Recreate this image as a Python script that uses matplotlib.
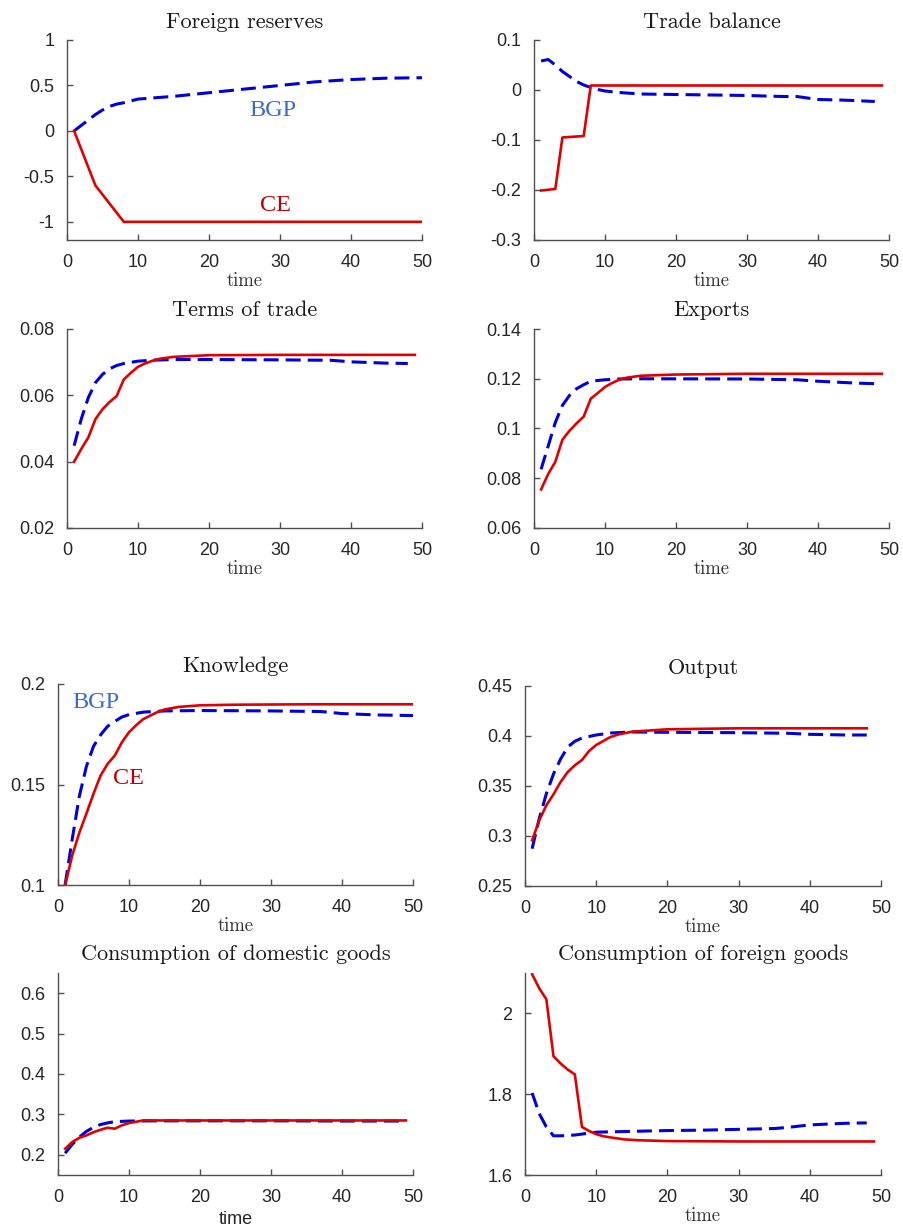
import numpy as np
import matplotlib
matplotlib.use("Agg")
import matplotlib.pyplot as plt
from matplotlib.ticker import FuncFormatter

plt.rcParams['axes.unicode_minus'] = False

# Foreign reserves
t_res_ce = [1, 4, 8, 20, 30, 40, 50]
res_ce = [0.0, -0.60, -1.0, -1.0, -1.0, -1.0, -1.0]
t_res_bgp = [1, 2, 3, 4, 5, 6, 7, 8, 10, 15, 20, 25, 30, 35, 40, 45, 50]
res_bgp = [0.0, 0.06, 0.12, 0.18, 0.23, 0.27, 0.295, 0.31, 0.35, 0.38, 0.42, 0.46, 0.50, 0.54, 0.565, 0.58, 0.585]

# Trade balance
t_tb_ce = [1, 3, 4, 7, 8, 20, 30, 40, 49]
tb_ce = [-0.201, -0.198, -0.095, -0.092, 0.009, 0.009, 0.009, 0.009, 0.009]
t_tb_bgp = [1, 2, 3, 4, 5, 6, 7, 8, 9, 10, 12, 15, 20, 25, 30, 35, 37, 40, 43, 45, 48]
tb_bgp = [0.058, 0.061, 0.05, 0.037, 0.027, 0.017, 0.01, 0.005, 0.001, -0.002, -0.005, -0.008,
          -0.009, -0.010, -0.011, -0.013, -0.013, -0.019, -0.020, -0.021, -0.023]

# Terms of trade
t_tot_ce = [1, 2, 3, 4, 5, 6, 7, 8, 9, 10, 11, 12, 13, 15, 20, 30, 40, 49]
tot_ce = [0.040, 0.0438, 0.0473, 0.0528, 0.0558, 0.058, 0.0598, 0.0648, 0.0668, 0.0686, 0.0696,
          0.0704, 0.071, 0.0716, 0.0721, 0.0722, 0.0722, 0.0722]
t_tot_bgp = [1, 2, 3, 4, 5, 6, 7, 8, 10, 12, 15, 20, 30, 35, 37, 40, 45, 48]
tot_bgp = [0.0448, 0.0528, 0.0593, 0.0638, 0.0663, 0.068, 0.069, 0.0696, 0.0703, 0.0706, 0.0708,
           0.0708, 0.0707, 0.0706, 0.0706, 0.0701, 0.0697, 0.0696]

# Exports
t_exp_ce = [1, 2, 3, 4, 5, 6, 7, 8, 9, 10, 11, 12, 13, 15, 20, 30, 40, 49]
exp_ce = [0.0755, 0.0817, 0.0866, 0.0955, 0.0991, 0.1021, 0.1048, 0.112, 0.1143, 0.1167, 0.1183,
          0.1196, 0.1204, 0.1212, 0.1217, 0.122, 0.122, 0.122]
t_exp_bgp = [1, 2, 3, 4, 5, 6, 7, 8, 10, 12, 15, 30, 37, 40, 45, 48]
exp_bgp = [0.0836, 0.093, 0.1024, 0.1093, 0.1133, 0.116, 0.1176, 0.119, 0.1196, 0.1199, 0.120,
           0.1199, 0.1196, 0.119, 0.1183, 0.118]

# Knowledge
t_kn_ce = [1, 2, 3, 4, 5, 6, 7, 8, 9, 10, 11, 12, 13, 14, 15, 17, 20, 25, 35, 50]
kn_ce = [0.100, 0.1146, 0.126, 0.1355, 0.1454, 0.1545, 0.1603, 0.1644, 0.171, 0.176, 0.1795,
         0.1825, 0.1843, 0.186, 0.1873, 0.1886, 0.1894, 0.1897, 0.1899, 0.1899]
t_kn_bgp = [1, 2, 3, 4, 5, 6, 7, 8, 9, 10, 12, 15, 20, 30, 37, 40, 45, 50]
kn_bgp = [0.100, 0.1227, 0.1441, 0.159, 0.169, 0.1747, 0.179, 0.1814, 0.1836, 0.1848, 0.186,
          0.1866, 0.1868, 0.1866, 0.1863, 0.1853, 0.1846, 0.1843]

# Output
t_out_ce = [1, 2, 3, 4, 5, 6, 7, 8, 9, 10, 11, 12, 13, 15, 20, 30, 40, 48]
out_ce = [0.2957, 0.3157, 0.3307, 0.3417, 0.354, 0.364, 0.3707, 0.376, 0.385, 0.391, 0.395,
          0.399, 0.4013, 0.4043, 0.4067, 0.4077, 0.4077, 0.4077]
t_out_bgp = [1, 2, 3, 4, 5, 6, 7, 8, 10, 12, 15, 20, 30, 37, 40, 45, 48]
out_bgp = [0.2873, 0.3173, 0.3423, 0.362, 0.377, 0.389, 0.3947, 0.398, 0.401, 0.403, 0.404,
           0.4037, 0.4033, 0.4027, 0.4017, 0.401, 0.401]

# Consumption of domestic goods
t_cd_ce = [1, 2, 3, 4, 5, 6, 7, 8, 9, 10, 12, 15, 20, 30, 40, 49]
cd_ce = [0.215, 0.2315, 0.242, 0.248, 0.256, 0.262, 0.267, 0.2646, 0.273, 0.2785, 0.285, 0.285,
         0.285, 0.285, 0.285, 0.285]
t_cd_bgp = [1, 2, 3, 4, 5, 6, 7, 8, 10, 15, 20, 30, 40, 49]
cd_bgp = [0.204, 0.2257, 0.2437, 0.258, 0.268, 0.275, 0.279, 0.282, 0.2835, 0.284, 0.284, 0.284,
          0.2835, 0.2835]

# Consumption of foreign goods
t_cf_ce = [1, 2, 3, 4, 5, 6, 7, 8, 9, 10, 11, 12, 14, 16, 20, 30, 40, 49]
cf_ce = [2.097, 2.062, 2.035, 1.894, 1.876, 1.861, 1.849, 1.719, 1.709, 1.701, 1.696, 1.693,
         1.688, 1.686, 1.684, 1.683, 1.683, 1.683]
t_cf_bgp = [1, 2, 3, 4, 5, 7, 10, 15, 20, 25, 30, 35, 37, 40, 45, 48]
cf_bgp = [1.803, 1.752, 1.719, 1.697, 1.697, 1.699, 1.706, 1.708, 1.710, 1.711, 1.713, 1.715,
          1.718, 1.724, 1.728, 1.729]

W, H = 904, 1231
fig = plt.figure(figsize=(W / 100, H / 100), dpi=100)

RED = '#e00000'
BLUE = '#0000d8'
AX = '#505050'


def make_axes(x0, y0, x1, y1):
    return fig.add_axes([x0 / W, 1 - y1 / H, (x1 - x0) / W, (y1 - y0) / H])


def draw_panel(box, title, t1, ce, t2, bgp, ylim, yticks, xlabel_font='cmr10'):
    ax = make_axes(*box)
    ax.plot(t2, bgp, color=BLUE, lw=2.2, dashes=(4.9, 2.3))
    ax.plot(t1, ce, color=RED, lw=1.9)
    ax.set_xlim(0, 50)
    ax.set_ylim(*ylim)
    ax.set_xticks(range(0, 51, 10))
    ax.set_yticks(yticks)
    ax.yaxis.set_major_formatter(FuncFormatter(lambda v, p: '%g' % round(v, 4)))
    for s in ['top', 'right']:
        ax.spines[s].set_visible(False)
    for s in ['left', 'bottom']:
        ax.spines[s].set_color(AX)
        ax.spines[s].set_linewidth(1.0)
    ax.tick_params(direction='in', length=4, width=1, color=AX, labelsize=13,
                   labelcolor='#262626')
    ax.tick_params(axis='y', pad=9)
    ax.tick_params(axis='x', pad=10)
    for lab in ax.get_xticklabels() + ax.get_yticklabels():
        lab.set_fontfamily('Liberation Sans')
    ax.set_title(title, fontfamily='cmr10', fontsize=16, pad=9, color='#1a1a1a')
    if xlabel_font == 'cmr10':
        ax.set_xlabel('time', fontfamily='cmr10', fontsize=13.5, labelpad=1, color='#333333')
    else:
        ax.set_xlabel('time', fontfamily='Liberation Sans', fontsize=13, labelpad=4, color='#262626')
    ax.patch.set_alpha(0)
    return ax


ax1 = draw_panel((67, 40, 422, 240), 'Foreign reserves', t_res_ce, res_ce, t_res_bgp, res_bgp,
                 (-1.2, 1.0), [-1, -0.5, 0, 0.5, 1])
ax1.text(29, 0.22, 'BGP', color='#3a6bc9', fontsize=17.5, fontfamily='Liberation Serif',
         ha='center', va='center')
ax1.text(29.3, -0.82, 'CE', color='#c00000', fontsize=17.5, fontfamily='Liberation Serif',
         ha='center', va='center')

draw_panel((534, 40, 889, 240), 'Trade balance', t_tb_ce, tb_ce, t_tb_bgp, tb_bgp,
           (-0.3, 0.1), [-0.3, -0.2, -0.1, 0, 0.1])

draw_panel((67, 329, 422, 528), 'Terms of trade', t_tot_ce, tot_ce, t_tot_bgp, tot_bgp,
           (0.02, 0.08), [0.02, 0.04, 0.06, 0.08])

draw_panel((534, 329, 889, 528), 'Exports', t_exp_ce, exp_ce, t_exp_bgp, exp_bgp,
           (0.06, 0.14), [0.06, 0.08, 0.1, 0.12, 0.14])

ax5 = draw_panel((58, 684, 413, 885), 'Knowledge', t_kn_ce, kn_ce, t_kn_bgp, kn_bgp,
                 (0.1, 0.2), [0.1, 0.15, 0.2])
ax5.text(5.4, 0.1906, 'BGP', color='#3a6bc9', fontsize=17.5, fontfamily='Liberation Serif',
         ha='center', va='center')
ax5.text(9.9, 0.1528, 'CE', color='#c00000', fontsize=17.5, fontfamily='Liberation Serif',
         ha='center', va='center')

draw_panel((525, 686, 881, 886), 'Output', t_out_ce, out_ce, t_out_bgp, out_bgp,
           (0.25, 0.45), [0.25, 0.3, 0.35, 0.4, 0.45])

draw_panel((58, 973, 413, 1175), 'Consumption of domestic goods', t_cd_ce, cd_ce, t_cd_bgp, cd_bgp,
           (0.15, 0.65), [0.2, 0.3, 0.4, 0.5, 0.6], xlabel_font='sans')

draw_panel((525, 973, 881, 1175), 'Consumption of foreign goods', t_cf_ce, cf_ce, t_cf_bgp, cf_bgp,
           (1.6, 2.1), [1.6, 1.8, 2.0])

fig.savefig('out.png', dpi=100, facecolor='white')
